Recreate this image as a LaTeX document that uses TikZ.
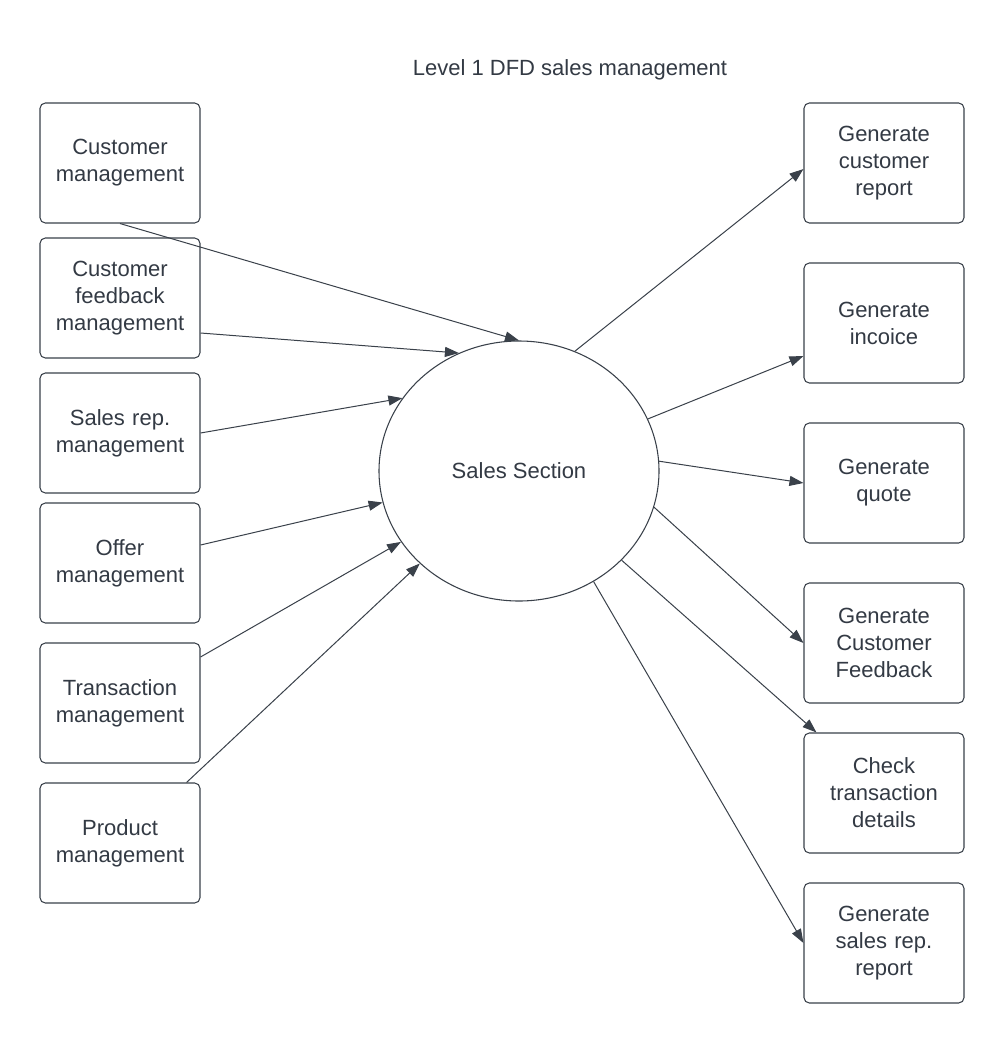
\documentclass[tikz,border=0pt]{standalone}
\usepackage{fontspec}
\setmainfont{Liberation Sans}
\usetikzlibrary{shapes.geometric,arrows.meta,calc}
\definecolor{ln}{HTML}{3A414A}
\definecolor{tx}{HTML}{333A44}
\begin{document}
\begin{tikzpicture}[x=0.75pt,y=-0.75pt,
 box/.style={draw=ln,line width=0.8pt,rounded corners=4pt,minimum width=120pt,minimum height=90pt,align=center,text=tx,font=\fontsize{16.5}{20.25}\selectfont,inner sep=0pt,text width=116pt},
 proc/.style={draw=ln,line width=0.8pt,ellipse,minimum width=210pt,minimum height=195pt,inner sep=0pt,text=tx,font=\fontsize{16.5}{20.25}\selectfont},
 flow/.style={draw=ln,line width=0.75pt,-{Triangle[length=10.5pt,width=7.5pt]}}]
\useasboundingbox[fill=white] (0,0) rectangle (1005,1043);
\node[text=tx,font=\fontsize{16.5}{20.25}\selectfont] (title) at (570,70) {Level 1 DFD sales management};
\node[proc] (c) at (519,471) {Sales Section};
% left boxes
\node[box] (l1) at (120,163) {Customer\\management};
\node[box] (l2) at (120,298) {Customer\\feedback\\management};
\node[box] (l3) at (120,433) {Sales rep.\\management};
\node[box] (l4) at (120,563) {Offer\\management};
\node[box] (l5) at (120,703) {Transaction\\management};
\node[box] (l6) at (120,843) {Product\\management};
% right boxes
\node[box] (r1) at (884,163) {Generate\\customer\\report};
\node[box] (r2) at (884,323) {Generate\\incoice};
\node[box] (r3) at (884,483) {Generate\\quote};
\node[box] (r4) at (884,643) {Generate\\Customer\\Feedback};
\node[box] (r5) at (884,793) {Check\\transaction\\details};
\node[box] (r6) at (884,943) {Generate\\sales rep.\\report};
% inflows
\draw[flow] (l1.south) -- (c.90);
\draw[flow] ($(l2.east)+(0,35)$) -- (c.117.5);
\draw[flow] (l3.east) -- (c.148);
\draw[flow] ($(l4.east)+(0,-18)$) -- (c.193);
\draw[flow] ($(l5.east)+(0,-46)$) -- (c.211);
\draw[flow] ($(l6.north east)+(-14,0)$) -- (c.223.5);
% outflows
\draw[flow] (c.65) -- ($(r1.west)+(0,6)$);
\draw[flow] (c.22) -- ($(r2.west)+(0,33)$);
\draw[flow] (c.4) -- (r3.west);
\draw[flow] (c.-15) -- (r4.west);
\draw[flow] (c.-41.5) -- ($(r5.north west)+(13,0)$);
\draw[flow] (c.-56) -- (r6.west);
\end{tikzpicture}
\end{document}
